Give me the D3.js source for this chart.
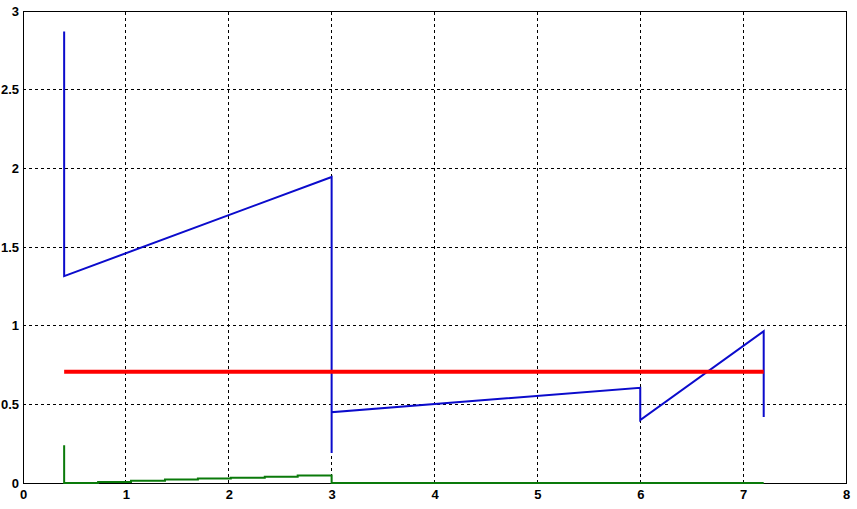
<!DOCTYPE html>
<html>
<head>
<meta charset="utf-8">
<script src="https://cdn.jsdelivr.net/npm/d3@7"></script>
<style>
  body { margin: 0; background: #fff; }
  text { font-family: "Liberation Sans Narrow", "Liberation Sans", Arial, sans-serif; font-weight: bold; font-size: 13px; }
</style>
</head>
<body>
<svg width="857" height="509"></svg>
<script>
var svg = d3.select('svg');

// data
var xTicks = [0, 1, 2, 3, 4, 5, 6, 7, 8];
var yTicks = [0, 0.5, 1, 1.5, 2, 2.5, 3];
var yTickLabels = ['0', '0.5', '1', '1.5', '2', '2.5', '3'];

var blueX = [0.4, 0.4, 3.0, 3.0, 3.0, 6.0, 6.0, 7.2, 7.2];
var blueY = [2.87, 1.315, 1.945, 0.19, 0.45, 0.605, 0.40, 0.965, 0.42];

var redX = [0.4, 7.2];
var redY = [0.707, 0.707];

// green staircase: step edges and level on each step
var greenStepX = [0.4, 0.73, 1.05, 1.38, 1.70, 2.02, 2.35, 2.67, 3.0, 7.2];
var greenLevel = [0, 0.007, 0.014, 0.022, 0.028, 0.034, 0.040, 0.047, 0];
var greenSpike = 0.24;

var margin = {left: 23, top: 11, right: 11, bottom: 26};
var W = 857, H = 509;

var x = d3.scaleLinear().domain([0, 8]).range([margin.left, W - margin.right]);
var y = d3.scaleLinear().domain([0, 3]).range([H - margin.bottom, margin.top]);

// grid
var grid = svg.append('g').attr('stroke', '#000').attr('stroke-width', 1)
  .attr('stroke-dasharray', '3,3').attr('shape-rendering', 'crispEdges');
xTicks.slice(1, -1).forEach(function(t){
  grid.append('line').attr('x1', x(t)).attr('x2', x(t)).attr('y1', y(0)).attr('y2', y(3));
});
yTicks.slice(1, -1).forEach(function(t){
  grid.append('line').attr('x1', x(0)).attr('x2', x(8)).attr('y1', y(t)).attr('y2', y(t));
});

// box
svg.append('rect').attr('x', x(0)).attr('y', y(3))
  .attr('width', x(8) - x(0)).attr('height', y(0) - y(3))
  .attr('fill', 'none').attr('stroke', '#000').attr('shape-rendering', 'crispEdges');

// axes labels via d3 axes
var xAxis = d3.axisBottom(x).tickValues(xTicks).tickSize(0).tickPadding(7).tickFormat(d3.format('d'));
svg.append('g').attr('transform', 'translate(0,' + y(0) + ')').call(xAxis)
  .call(function(g){ g.select('.domain').remove(); })
  .selectAll('text').attr('fill', '#000');

var yAxis = d3.axisLeft(y).tickValues(yTicks).tickSize(0).tickPadding(4)
  .tickFormat(function(d, i){ return yTickLabels[i]; });
svg.append('g').attr('transform', 'translate(' + x(0) + ',0)').call(yAxis)
  .call(function(g){ g.select('.domain').remove(); })
  .selectAll('text').attr('fill', '#000');

var line = d3.line().x(function(d){ return x(d[0]); }).y(function(d){ return y(d[1]); });

// green
var greenPts = [[greenStepX[0], greenSpike]];
for (var i = 0; i < greenLevel.length; i++) {
  greenPts.push([greenStepX[i], greenLevel[i]]);
  greenPts.push([greenStepX[i + 1], greenLevel[i]]);
}
svg.append('path').attr('d', line(greenPts)).attr('fill', 'none')
  .attr('stroke', '#0a7a0a').attr('stroke-width', 2);

// blue
svg.append('path').attr('d', line(d3.zip(blueX, blueY))).attr('fill', 'none')
  .attr('stroke', '#0b0bcc').attr('stroke-width', 2);

// red
svg.append('path').attr('d', line(d3.zip(redX, redY))).attr('fill', 'none')
  .attr('stroke', '#ff0000').attr('stroke-width', 4);
</script>
</body>
</html>
